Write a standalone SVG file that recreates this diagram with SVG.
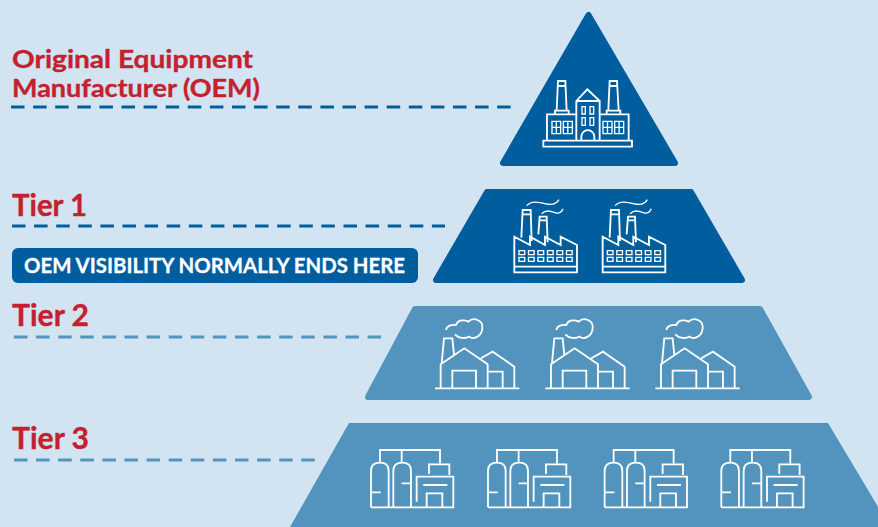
<svg xmlns="http://www.w3.org/2000/svg" xmlns:xlink="http://www.w3.org/1999/xlink" width="878" height="527" viewBox="0 0 878 527">
<style>
.lab{font-family:Lato,"Open Sans","Liberation Sans",sans-serif;font-weight:700;fill:#c4202f;stroke:#c4202f;stroke-width:.35}
.ban{font-family:Lato,"Open Sans","Liberation Sans",sans-serif;font-weight:700;fill:#fff;stroke:#fff;stroke-width:.3;font-size:21.500px}
.dash{fill:none;stroke-width:2.8;stroke-dasharray:13.5 8.600}
.ic{fill:none;stroke:#fff;stroke-width:5.500;stroke-linejoin:miter}
.thin{fill:none;stroke:#fff;stroke-width:4}
.dark{fill:#005e9f;stroke:#005e9f;stroke-width:6;stroke-linejoin:round}
.light{fill:#5394bf;stroke:#5394bf;stroke-width:6;stroke-linejoin:round}
</style>
<defs>
<g id="f2">
<path class="ic" d="M253 155V262H441V180L392 155V180L345 155V180L300 155V180ZM253 245H441"/>
<path class="ic" d="M274 158L278 75H302L305 168M276 88H303M325 148L329 95H350L353 172M327 106H351"/>
<path class="thin" d="M290 62C305 45 330 52 350 57C368 61 380 56 387 44M335 86C350 72 365 80 378 84C388 86 395 80 399 71"/>
<path class="thin" d="M267 197h17v12h-17zM295.500 197h17v12h-17zM324 197h17v12h-17zM352.500 197h17v12h-17zM381 197h17v12h-17zM409.500 197h17v12h-17zM267 217h17v12h-17zM295.500 217h17v12h-17zM324 217h17v12h-17zM352.500 217h17v12h-17zM381 217h17v12h-17zM409.500 217h17v12h-17z"/>
</g>
<g id="f3">
<path class="ic" d="M45 250H298M62 250V178L133 130L203 178V250M183 160L218 140L283 185V250M97 250V197H168V250M203 200H248V250M65 175L72 100H97L102 148"/>
<path class="ic" d="M78 75C80 62 95 58 108 60C115 42 135 45 145 50C160 35 190 45 187 70C185 95 160 105 148 95C135 102 115 100 105 88"/>
</g>
<g id="f4">
<path class="ic" d="M90 95V60H270V100M155 60V98M63 232V122Q63 98 90 98Q116 98 116 122V232M130 232V122Q130 98 157 98Q183 98 183 122V232M237 132V103H298V135M200 215V140H310V232H63M220 165H292M230 232V190H277V232M65 187H92M155 160H183"/>
</g>
</defs>
<rect width="878" height="527" fill="#d2e4f1"/>
<g id="connectors">
<path class="dash" stroke="#005e9f" d="M11 107H511"/>
<path class="dash" stroke="#005e9f" d="M12 226H445"/>
<path class="dash" stroke="#5394bf" d="M14 337H382"/>
<path class="dash" stroke="#5394bf" d="M14 460H315"/>
</g>
<g id="oem">
<polygon class="dark" points="588.500,15 503,163 675,163"/>
<g transform="translate(490 0) scale(.3333)">
<path class="ic" d="M160 422H426V440H160ZM171 422V343H259M330 343H416V422M259 422V303L292 268L329 303V422M259 303H329"/>
<path class="ic" d="M200 331L204 243H226L230 331M203 258H227M195 343V332H236V343M355 331L359 243H381L386 331M358 258H382M350 343V332H391V343"/>
<path class="thin" d="M186 364h26v37h-26zM199 364v37M186 382h26M220 364h27v37h-27zM233.500 364v37M220 382h27M339 364h27v37h-27zM352.500 364v37M339 382h27M374 364h27v37h-27zM387.500 364v37M374 382h27"/>
<path class="thin" d="M276 320h10v22h-10zM300 320h11v22h-11zM276 353h10v23h-10zM300 353h11v23h-11z"/>
<path class="ic" d="M274 422V410A19 19 0 0 1 313 410V422"/>
</g>
<text class="lab" x="12" y="68" font-size="25.500" textLength="241" lengthAdjust="spacingAndGlyphs">Original Equipment</text>
<text class="lab" x="12" y="97" font-size="25.500" textLength="248" lengthAdjust="spacingAndGlyphs">Manufacturer (OEM)</text>
</g>
<g id="tier1">
<polygon class="dark" points="487,192 691,192 742,280 436,280"/>
<g transform="translate(430 185) scale(.3333)">
<use xlink:href="#f2" href="#f2"/>
<use xlink:href="#f2" href="#f2" x="265"/>
</g>
<text class="lab" x="12" y="216" font-size="31" textLength="75" lengthAdjust="spacingAndGlyphs">Tier 1</text>
</g>
<g id="banner">
<rect x="12" y="248" width="406" height="35" rx="6" fill="#005e9f"/>
<text class="ban" x="24" y="272.500" textLength="381" lengthAdjust="spacingAndGlyphs">OEM VISIBILITY NORMALLY ENDS HERE</text>
</g>
<g id="tier2">
<polygon class="light" points="415,309 760,309 809,397 368,397"/>
<g transform="translate(420 305) scale(.3333)">
<use xlink:href="#f3" href="#f3"/>
<use xlink:href="#f3" href="#f3" x="331"/>
<use xlink:href="#f3" href="#f3" x="661"/>
</g>
<text class="lab" x="12" y="326" font-size="31" textLength="77" lengthAdjust="spacingAndGlyphs">Tier 2</text>
</g>
<g id="tier3">
<polygon fill="#5394bf" points="349,423 828,423 890,527 290,527"/>
<g transform="translate(350 430) scale(.3333)">
<use xlink:href="#f4" href="#f4"/>
<use xlink:href="#f4" href="#f4" x="351"/>
<use xlink:href="#f4" href="#f4" x="701"/>
<use xlink:href="#f4" href="#f4" x="1051"/>
</g>
<text class="lab" x="12" y="449" font-size="31" textLength="77" lengthAdjust="spacingAndGlyphs">Tier 3</text>
</g>
</svg>
